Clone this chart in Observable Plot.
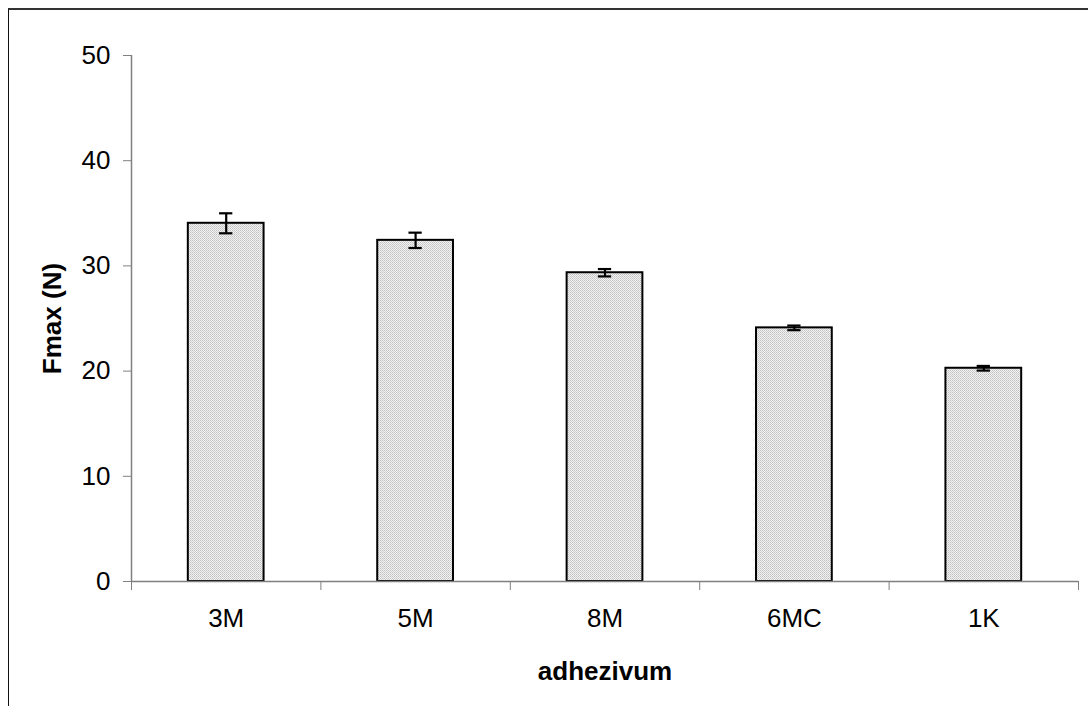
<!DOCTYPE html>
<html>
<head>
<meta charset="utf-8">
<script src="https://cdn.jsdelivr.net/npm/d3@7"></script>
<script src="https://cdn.jsdelivr.net/npm/@observablehq/plot@0.6"></script>
<style>
  html, body { margin: 0; padding: 0; background: #fff; overflow: hidden; }
  #wrap { position: relative; width: 1088px; height: 706px; }
  #frame { position: absolute; left: 8px; top: 8px; width: 1200px; height: 800px;
           border-top: 2px solid #333; border-left: 1.5px solid #111; pointer-events: none; }
  #chart { position: absolute; left: 0; top: 0; }
</style>
</head>
<body>
<div id="wrap"><div id="frame"></div><div id="chart"></div></div>
<script>
const categories = ["3M", "5M", "8M", "6MC", "1K"];
const means = [34.05, 32.43, 29.35, 24.11, 20.27];
const errors = [0.95, 0.73, 0.35, 0.22, 0.22];
const yTicks = [0, 10, 20, 30, 40, 50];
const yLabel = "Fmax (N)";
const xLabel = "adhezivum";

const data = categories.map((c, i) => ({
  cat: c, i, center: i + 0.5, mean: means[i], lo: means[i] - errors[i], hi: means[i] + errors[i]
}));
const boundaries = d3.range(categories.length + 1);

const font = "Liberation Sans, Arial, Helvetica, sans-serif";
const axisGray = "#808080";

const chart = Plot.plot({
  width: 1088,
  height: 706,
  marginLeft: 131,
  marginRight: 10,
  marginTop: 55,
  marginBottom: 125,
  style: { fontFamily: font, fontSize: "26px", background: "transparent", color: "#000" },
  x: { domain: [0, categories.length], axis: null },
  y: { domain: [0, 50], axis: null },
  marks: [
    Plot.rectY(data, {
      x1: d => d.i + 0.3, x2: d => d.i + 0.7, y1: 0, y2: "mean",
      fill: "url(#dither)", stroke: "#000", strokeWidth: 2
    }),
    Plot.ruleX(data, { x: "center", y1: "lo", y2: "hi", stroke: "#000", strokeWidth: 2.2 }),
    Plot.ruleY(data, { y: "hi", x1: d => d.center - 0.035, x2: d => d.center + 0.035, stroke: "#000", strokeWidth: 2.2 }),
    Plot.ruleY(data, { y: "lo", x1: d => d.center - 0.035, x2: d => d.center + 0.035, stroke: "#000", strokeWidth: 2.2 }),
    // axis lines
    Plot.ruleY([0], { stroke: axisGray, strokeWidth: 1.5 }),
    Plot.ruleX([0], { stroke: axisGray, strokeWidth: 1.5 }),
    // y axis ticks & labels
    Plot.axisY({ ticks: yTicks, tickSize: 8, tickPadding: 13, stroke: axisGray, label: null,
                 fontSize: 26, fill: "#000", tickFormat: d => d }),
    // x boundary ticks
    Plot.axisX({ ticks: boundaries, tickSize: 9, tickFormat: () => "", stroke: axisGray, label: null }),
    Plot.axisX({ ticks: data.map(d => d.center), tickSize: 0, tickPadding: 27,
                 tickFormat: (d) => categories[Math.floor(d)], fontSize: 26, fill: "#000", label: null }),
    // axis titles
    Plot.text([yLabel], { frameAnchor: "left", dx: -79, rotate: -90, text: d => d,
                          fontWeight: "bold", fontSize: 26, textAnchor: "middle", lineAnchor: "middle", fill: "#000" }),
    Plot.text([xLabel], { frameAnchor: "bottom", dy: 90, text: d => d,
                          fontWeight: "bold", fontSize: 26, textAnchor: "middle", lineAnchor: "middle", fill: "#000" })
  ]
});

const defs = d3.select(chart).insert("defs", ":first-child");
const pat = defs.append("pattern").attr("id", "dither").attr("patternUnits", "userSpaceOnUse")
  .attr("width", 2).attr("height", 2);
pat.append("rect").attr("width", 2).attr("height", 2).attr("fill", "#f2f2f2");
pat.append("rect").attr("width", 1).attr("height", 1).attr("fill", "#c0c0c0");
pat.append("rect").attr("x", 1).attr("y", 1).attr("width", 1).attr("height", 1).attr("fill", "#d0d0d0");

document.getElementById("chart").appendChild(chart);
</script>
</body>
</html>
